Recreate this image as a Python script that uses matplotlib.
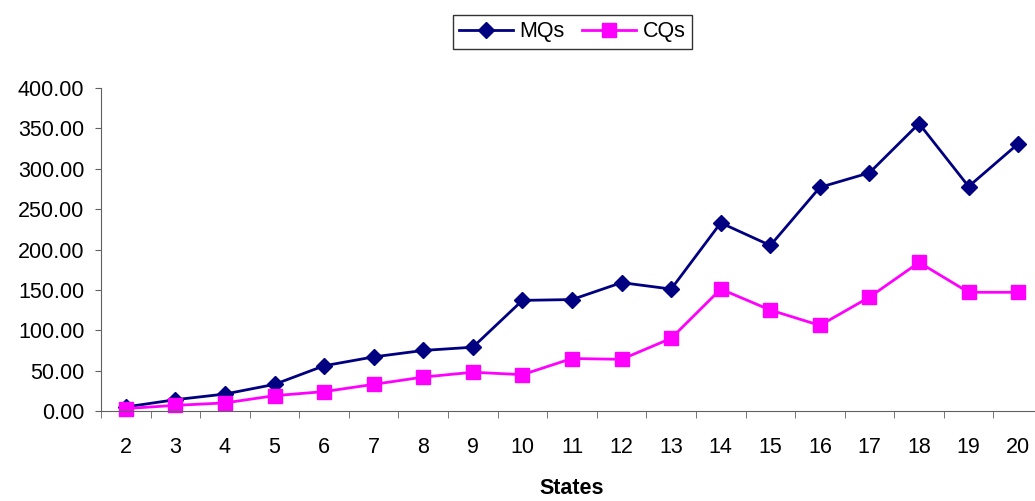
import numpy as np
import matplotlib.pyplot as plt
from matplotlib.ticker import FixedLocator, FormatStrFormatter

plt.rcParams['font.family'] = ['Liberation Sans', 'DejaVu Sans']

states = list(range(2, 21))
mqs = [5, 14, 21, 33, 56, 67, 75, 79, 137, 138, 159, 151, 233, 205, 277, 295, 356, 278, 331]
cqs = [3, 7, 10, 19, 24, 33, 42, 48, 45, 65, 64, 90, 151, 125, 106, 141, 184, 147, 147]

fig = plt.figure(figsize=(10.35, 5.01), dpi=100)
ax = fig.add_axes([101/1035, 90/501, 942/1035, 323/501])

ax.plot(states, mqs, color='#000080', lw=2, marker='D', ms=8, label='MQs', clip_on=False)
ax.plot(states, cqs, color='#FF00FF', lw=2, marker='s', ms=10, label='CQs', clip_on=False)

ax.set_xlim(1.5, 20.5)
ax.set_ylim(0, 400)
ax.set_yticks(np.arange(0, 401, 50))
ax.yaxis.set_major_formatter(FormatStrFormatter('%.2f'))
ax.set_xticks(states)
ax.xaxis.set_minor_locator(FixedLocator(np.arange(1.5, 21, 1)))
ax.tick_params(axis='x', which='major', length=0, labelsize=15.5, pad=19)
ax.tick_params(axis='x', which='minor', length=5, color='#606060')
ax.tick_params(axis='y', length=4, color='#606060', labelsize=15.5, pad=8)

for s in ['top', 'right']:
    ax.spines[s].set_visible(False)
for s in ['left', 'bottom']:
    ax.spines[s].set_color('#606060')

ax.set_xlabel('States', fontsize=15.5, fontweight='bold', labelpad=14)

leg = fig.legend(loc='upper center', bbox_to_anchor=(0.553, 0.992), ncol=2, fontsize=15.5,
                 frameon=True, fancybox=False, edgecolor='black', handlelength=2.5,
                 columnspacing=0.8, handletextpad=0.3, borderpad=0.3)
leg.get_frame().set_linewidth(1)

plt.savefig('out.png', dpi=100)
